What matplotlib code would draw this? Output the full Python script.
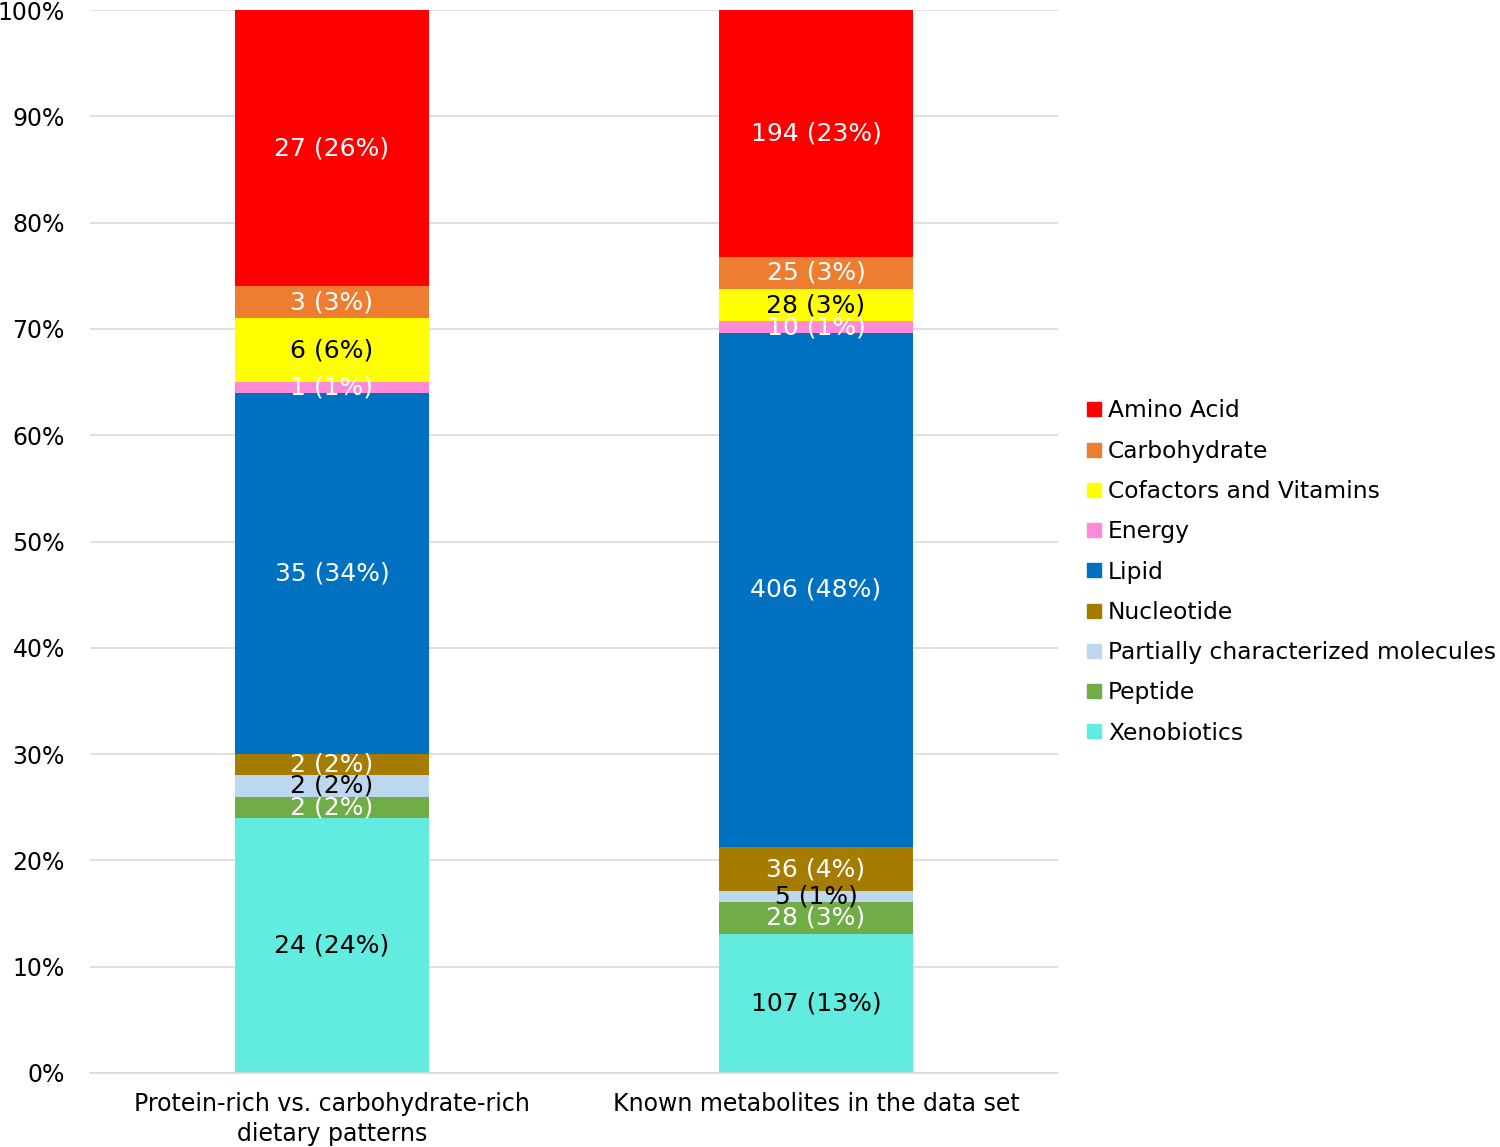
import matplotlib
matplotlib.use("Agg")
import matplotlib.pyplot as plt
from matplotlib.lines import Line2D

categories = ["Protein-rich vs. carbohydrate-rich\ndietary patterns", "Known metabolites in the data set"]
classes = ["Xenobiotics", "Peptide", "Partially characterized molecules", "Nucleotide",
           "Lipid", "Energy", "Cofactors and Vitamins", "Carbohydrate", "Amino Acid"]
colors = ["#62ecdf", "#70ad47", "#bdd7ee", "#a67c00", "#0070c0", "#ff8ad8", "#ffff00", "#ed7d31", "#ff0000"]
text_colors = ["black", "white", "black", "white", "white", "white", "black", "white", "white"]

# bar heights (share of bar, %)
share_diet = [24, 2, 2, 2, 34, 1, 6, 3, 26]
share_known = [13.1, 3.0, 1.0, 4.15, 48.4, 1.05, 3.05, 3.05, 23.2]
# labels
count_diet = [24, 2, 2, 2, 35, 1, 6, 3, 27]
pct_diet = [24, 2, 2, 2, 34, 1, 6, 3, 26]
count_known = [107, 28, 5, 36, 406, 10, 28, 25, 194]
pct_known = [13, 3, 1, 4, 48, 1, 3, 3, 23]

fig = plt.figure(figsize=(15, 11.47), dpi=100)
ax = fig.add_axes([90/1500, 1 - 1073/1147, (1058-90)/1500, (1073-10)/1147])

shares = [share_diet, share_known]
counts = [count_diet, count_known]
pcts = [pct_diet, pct_known]
width = 0.4
for xi in range(2):
    bottom = 0
    for k in range(len(classes)):
        h = shares[xi][k] / 100
        ax.bar(xi, h, width, bottom=bottom, color=colors[k], zorder=2)
        ax.text(xi, bottom + h / 2, f"{counts[xi][k]} ({pcts[xi][k]}%)", ha="center", va="center",
                color=text_colors[k], fontsize=18, zorder=3)
        bottom += h

ax.set_xlim(-0.5, 1.5)
ax.set_ylim(0, 1)
ax.set_yticks([i / 10 for i in range(11)])
ax.set_yticklabels([f"{i*10}%" for i in range(11)], fontsize=17)
ax.set_xticks([0, 1])
ax.set_xticklabels(categories, fontsize=17, linespacing=1.3)
ax.yaxis.grid(True, color="#d9d9d9", linewidth=1.2, zorder=0)
ax.set_axisbelow(True)
for s in ["top", "right", "left"]:
    ax.spines[s].set_visible(False)
ax.spines["bottom"].set_color("#d9d9d9")
ax.spines["bottom"].set_linewidth(1.2)
ax.tick_params(axis="x", length=0, pad=14)
ax.tick_params(axis="y", length=0, pad=18)

handles = [Line2D([0], [0], marker="s", linestyle="none", markersize=10, markerfacecolor=c,
                  markeredgecolor=c) for c in colors[::-1]]
fig.legend(handles, classes[::-1], loc="center left", bbox_to_anchor=(1073/1500, 1 - 572/1147),
           frameon=False, fontsize=16.8, handletextpad=0.2, labelspacing=0.74, handlelength=0.8,
           borderpad=0)

fig.savefig("out.png", dpi=100)
